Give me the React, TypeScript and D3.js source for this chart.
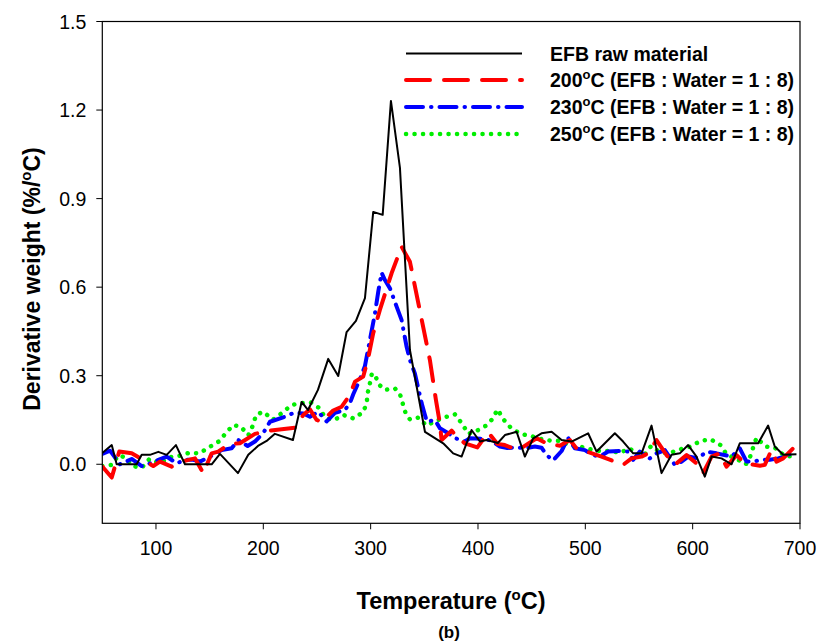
import React, { useEffect, useRef } from "react";
import * as d3 from "d3";

const rawT = [50, 58.8, 63.4, 82.0, 86.7, 94.4, 102.2, 110.0, 118.6, 127.0, 151.9, 159.6, 176.4, 186.0, 195.0, 203.1, 210.8, 227.6, 235.7, 241.6, 250.9, 260.5, 269.8, 277.6, 286.3, 294.7, 302.4, 311.2, 318.9, 327.3, 336.6, 350.6, 367.6, 376.9, 384.7, 394.0, 401.8, 408.0, 418.5, 425.1, 436.0, 443.7, 451.4, 459.2, 468.6, 477.9, 487.2, 502.6, 510.5, 527.5, 535.2, 544.6, 552.4, 561.7, 571.0, 580.3, 588.0, 595.8, 603.6, 611.3, 617.6, 626.9, 636.2, 643.9, 653.2, 661.0, 670.3, 676.5, 684.3, 696.7];
const rawV = [0.038, 0.065, 0.0, 0.0, 0.032, 0.032, 0.042, 0.032, 0.065, 0.0, 0.0, 0.035, -0.03, 0.032, 0.062, 0.079, 0.103, 0.082, 0.211, 0.184, 0.252, 0.357, 0.299, 0.448, 0.486, 0.563, 0.855, 0.845, 1.231, 1.004, 0.387, 0.110, 0.071, 0.037, 0.026, 0.116, 0.077, 0.082, 0.072, 0.099, 0.110, 0.026, 0.088, 0.105, 0.110, 0.082, 0.077, 0.105, 0.043, 0.105, 0.077, 0.037, 0.037, 0.131, -0.030, 0.032, 0.037, 0.065, 0.026, -0.042, 0.026, 0.020, 0.0, 0.071, 0.071, 0.071, 0.131, 0.060, 0.032, 0.034];

const t200T = [50, 58.8, 65.8, 77.4, 89.8, 97.5, 103.7, 114.6, 124.0, 136.3, 144.1, 151.9, 158.0, 168.9, 178.2, 192.2, 206.2, 229.5, 237.2, 243.4, 249.7, 254.3, 265.1, 273.0, 280.7, 285.4, 293.1, 297.7, 302.4, 308.6, 319.5, 328.8, 336.6, 355.2, 360.8, 364.5, 366.1, 375.4, 381.6, 387.8, 399.4, 409.5, 418.1, 425.0, 437.4, 454.6, 465.4, 476.3, 485.6, 491.8, 501.2, 515.1, 535.2, 543.1, 552.4, 558.5, 566.3, 575.7, 583.4, 594.3, 603.6, 609.7, 617.6, 625.3, 631.5, 640.9, 648.6, 662.6, 667.2, 673.4, 678.1, 684.3, 695.2];
const t200V = [-0.008, -0.045, 0.043, 0.037, 0.011, -0.006, 0.009, -0.008, 0.009, 0.020, -0.030, 0.037, 0.043, 0.069, 0.071, 0.103, 0.114, 0.124, 0.167, 0.186, 0.150, 0.144, 0.182, 0.195, 0.235, 0.280, 0.297, 0.359, 0.444, 0.523, 0.647, 0.737, 0.686, 0.353, 0.218, 0.139, 0.082, 0.114, 0.088, 0.071, 0.057, 0.108, 0.069, 0.065, 0.048, 0.088, 0.068, 0.063, 0.082, 0.054, 0.043, 0.026, -0.002, 0.020, 0.026, 0.037, 0.082, 0.031, -0.002, 0.031, 0.003, -0.030, 0.026, 0.037, -0.008, 0.031, 0.003, -0.005, -0.002, 0.048, 0.009, 0.020, 0.060];

const t230T = [50, 57.2, 66.5, 77.4, 86.7, 94.4, 102.2, 110.0, 119.3, 127.0, 134.8, 141.0, 150.3, 161.2, 170.5, 176.7, 185.4, 192.2, 200.0, 206.2, 220.2, 228.8, 237.2, 243.4, 251.2, 259.0, 266.7, 276.0, 280.7, 283.8, 290.0, 294.7, 299.3, 304.0, 307.1, 310.2, 313.3, 318.0, 324.2, 328.8, 333.5, 336.6, 341.2, 347.5, 350.6, 352.4, 359.9, 364.5, 372.3, 379.9, 387.8, 392.5, 402.7, 411.6, 420.4, 427.4, 436.0, 443.7, 453.0, 459.2, 463.9, 470.0, 477.9, 484.0, 490.3, 499.6, 507.3, 513.5, 521.3, 532.2, 539.9, 544.6, 550.8, 560.1, 566.3, 574.1, 583.4, 589.6, 595.8, 605.1, 612.9, 622.2, 636.2, 643.9, 650.2, 656.3, 664.1, 671.9, 679.6, 685.8, 692.1, 696.1];
const t230V = [0.035, 0.046, 0.0, 0.018, -0.006, 0.003, 0.015, 0.026, 0.003, 0.015, 0.015, 0.009, 0.026, 0.048, 0.054, 0.082, 0.062, 0.077, 0.106, 0.144, 0.161, 0.175, 0.172, 0.161, 0.178, 0.145, 0.174, 0.184, 0.207, 0.237, 0.288, 0.333, 0.421, 0.511, 0.585, 0.649, 0.624, 0.596, 0.534, 0.489, 0.398, 0.353, 0.308, 0.207, 0.167, 0.144, 0.150, 0.122, 0.105, 0.087, 0.077, 0.088, 0.086, 0.081, 0.060, 0.055, 0.057, 0.054, 0.060, 0.056, 0.031, 0.013, 0.045, 0.089, 0.054, 0.048, 0.031, 0.026, 0.043, 0.045, 0.043, 0.015, 0.043, 0.020, 0.037, 0.048, -0.002, 0.009, 0.026, 0.020, 0.043, 0.037, 0.026, 0.054, 0.009, 0.009, 0.015, 0.015, 0.020, 0.026, 0.037, 0.037];

const t250T = [50, 58.8, 64.9, 71.1, 78.3, 86.7, 94.0, 103.5, 112.3, 122.1, 131.0, 140.3, 149.7, 158.9, 165.2, 172.0, 179.2, 186.0, 190.5, 193.2, 199.9, 209.0, 217.1, 226.4, 234.9, 244.4, 252.8, 257.7, 266.0, 274.6, 284.1, 293.1, 296.3, 297.2, 299.3, 301.2, 304.0, 308.0, 313.3, 322.6, 327.3, 329.8, 332.6, 336.6, 344.3, 352.1, 360.8, 370.8, 378.5, 385.7, 390.9, 398.7, 407.1, 413.2, 418.3, 423.5, 430.7, 439.7, 449.3, 458.6, 467.9, 477.2, 486.3, 494.9, 504.2, 513.5, 522.9, 532.2, 541.5, 548.3, 554.8, 561.3, 570.1, 579.4, 588.7, 598.0, 607.3, 616.6, 626.0, 632.1, 640.2, 649.5, 653.2, 656.3, 659.5, 667.9, 676.5, 686.5, 695.8];
const t250V = [-0.006, -0.002, 0.030, 0.024, -0.006, -0.012, 0.018, 0.003, 0.024, 0.029, 0.039, 0.037, 0.058, 0.078, 0.106, 0.133, 0.127, 0.098, 0.133, 0.167, 0.178, 0.151, 0.173, 0.201, 0.207, 0.209, 0.189, 0.156, 0.150, 0.167, 0.155, 0.177, 0.207, 0.241, 0.274, 0.308, 0.302, 0.269, 0.252, 0.257, 0.238, 0.207, 0.173, 0.152, 0.158, 0.131, 0.147, 0.161, 0.169, 0.135, 0.103, 0.113, 0.130, 0.152, 0.186, 0.153, 0.123, 0.103, 0.096, 0.086, 0.080, 0.079, 0.062, 0.060, 0.051, 0.045, 0.045, 0.039, 0.054, 0.031, 0.031, 0.062, 0.039, 0.039, 0.051, 0.060, 0.079, 0.085, 0.065, 0.031, 0.020, 0.0, 0.022, 0.056, 0.090, 0.060, 0.056, 0.026, 0.028];

const xTicks = [100, 200, 300, 400, 500, 600, 700];
const yTicks = [0.0, 0.3, 0.6, 0.9, 1.2, 1.5];
const seriesNames = ["EFB raw material", "200", "230", "250"];

const W = 821, H = 644;
const L = 102.3, R = 800, T = 21.5, B = 523.3;

export default function App() {
  const ref = useRef<SVGSVGElement>(null);
  useEffect(() => {
    const svg = d3.select(ref.current);
    svg.selectAll("*").remove();
    const x = d3.scaleLinear().domain([50, 700]).range([L, R]);
    const y = d3.scaleLinear().domain([-0.2, 1.5]).range([B, T]);
    const font = "Arial, 'Liberation Sans', sans-serif";

    const series = [
      { t: rawT, v: rawV, color: "#000000", w: 2, dash: null as string | null, cap: "butt" },
      { t: t200T, v: t200V, color: "#ff0000", w: 4, dash: "24 14", cap: "round" },
      { t: t230T, v: t230V, color: "#0000ff", w: 4, dash: "17 8 0.5 8", cap: "round" },
      { t: t250T, v: t250V, color: "#00ee00", w: 4.5, dash: "0.1 8.4", cap: "round" },
    ];

    const line = d3.line<[number, number]>().x(d => x(d[0])).y(d => y(d[1]));
    const g = svg.append("g");
    g.append("clipPath").attr("id", "clip").append("rect")
      .attr("x", L).attr("y", T).attr("width", R - L).attr("height", B - T);
    const plot = g.append("g").attr("clip-path", "url(#clip)");
    [3, 2, 1, 0].forEach(i => {
      const s = series[i];
      const pts = s.t.map((t, k) => [t, s.v[k]] as [number, number]);
      const p = plot.append("path").attr("d", line(pts) as string)
        .attr("fill", "none").attr("stroke", s.color).attr("stroke-width", s.w)
        .attr("stroke-linecap", s.cap).attr("stroke-linejoin", "round");
      if (s.dash) p.attr("stroke-dasharray", s.dash);
    });

    // frame
    g.append("rect").attr("x", L).attr("y", T).attr("width", R - L).attr("height", B - T)
      .attr("fill", "none").attr("stroke", "#000").attr("stroke-width", 1.2);

    // x ticks
    xTicks.forEach(t => {
      g.append("line").attr("x1", x(t)).attr("x2", x(t)).attr("y1", B).attr("y2", B + 6)
        .attr("stroke", "#000").attr("stroke-width", 1);
      g.append("text").attr("x", x(t)).attr("y", B + 32).attr("text-anchor", "middle")
        .attr("font-family", font).attr("font-size", 19.5).text(String(t));
    });
    yTicks.forEach(v => {
      g.append("line").attr("x1", L - 6).attr("x2", L).attr("y1", y(v)).attr("y2", y(v))
        .attr("stroke", "#000").attr("stroke-width", 1);
      g.append("text").attr("x", L - 16).attr("y", y(v) + 7).attr("text-anchor", "end")
        .attr("font-family", font).attr("font-size", 19.5).text(v.toFixed(1));
    });

    // axis titles
    const xt = g.append("text").attr("x", 451).attr("y", 609).attr("text-anchor", "middle")
      .attr("font-family", font).attr("font-size", 23.5).attr("font-weight", "bold");
    xt.append("tspan").text("Temperature (");
    xt.append("tspan").attr("dy", -9).attr("font-size", 15).text("o");
    xt.append("tspan").attr("dy", 9).text("C)");

    const yt = g.append("text").attr("transform", `translate(40,279) rotate(-90)`)
      .attr("text-anchor", "middle").attr("font-family", font).attr("font-size", 23).attr("font-weight", "bold");
    yt.append("tspan").text("Derivative weight (%/");
    yt.append("tspan").attr("dy", -9).attr("font-size", 15).text("o");
    yt.append("tspan").attr("dy", 9).text("C)");

    g.append("text").attr("x", 449).attr("y", 638).attr("text-anchor", "middle")
      .attr("font-family", font).attr("font-size", 17).attr("font-weight", "bold").text("(b)");

    // legend
    const ly = [53.5, 80, 107, 134];
    series.forEach((s, i) => {
      const ln = g.append("line").attr("x1", 406).attr("x2", 522).attr("y1", ly[i]).attr("y2", ly[i])
        .attr("stroke", s.color).attr("stroke-width", s.w).attr("stroke-linecap", s.cap);
      if (s.dash) ln.attr("stroke-dasharray", s.dash);
      const tx = g.append("text").attr("x", 550).attr("y", ly[i] + 7)
        .attr("font-family", font).attr("font-size", 19.5).attr("font-weight", "bold");
      if (i === 0) {
        tx.text(seriesNames[0]);
      } else {
        tx.append("tspan").text(seriesNames[i]);
        tx.append("tspan").attr("dy", -8).attr("font-size", 13).text("o");
        tx.append("tspan").attr("dy", 8).text("C (EFB : Water = 1 : 8)");
      }
    });
  }, []);
  return (
    <svg ref={ref} width={W} height={H} style={{ position: "absolute", left: 0, top: 0, background: "#fff" }} />
  );
}
